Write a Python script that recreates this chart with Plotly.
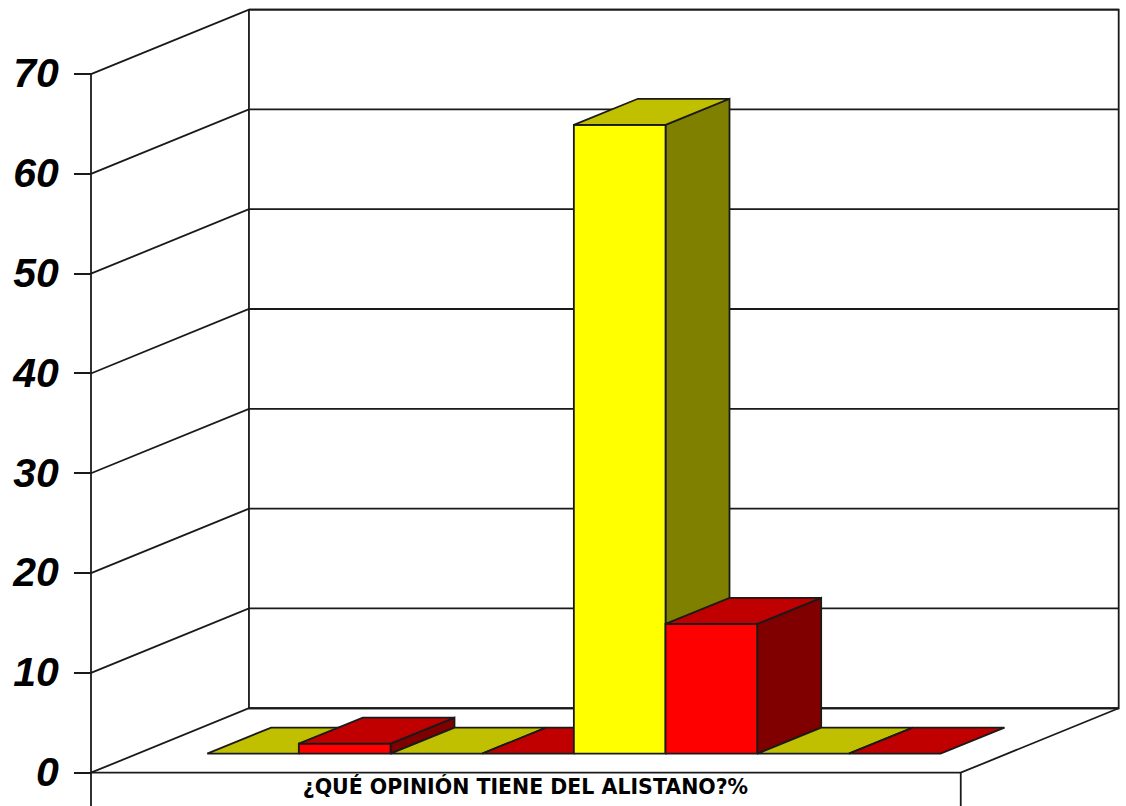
import plotly.graph_objects as go

# --- data ---
category_label = ["¿QUÉ OPINIÓN TIENE DEL ALISTANO?%"]
yellow_values = [0, 0, 63, 0]
red_values = [1, 0, 13, 0]
tick_values = [0, 10, 20, 30, 40, 50, 60, 70]

# --- oblique projection (axis units) ---
DEPTH_X = 0.1816   # full floor depth along x, fraction of front width
DEPTH_Y = 6.46     # full floor depth along y, value units
BAR_NEAR, BAR_FAR = 0.295, 0.70
BAR_START, BAR_W = 0.08, 0.1054
UNITS_PER_PX_Y = 70 / 698.7
UNITS_PER_PX_X = 1 / 870
Y_MAX = 77.42
Y_MIN = -33.3 * UNITS_PER_PX_Y
X_MIN = -4 * UNITS_PER_PX_X
X_MAX = 1.19
LINE = "#1a1a1a"
LW = 1.8


def proj(x, v, d):
    return x + d * DEPTH_X, v + d * DEPTH_Y


fig = go.Figure()


def poly(points, fill=None, width=LW, name=""):
    xs = [p[0] for p in points]
    ys = [p[1] for p in points]
    fig.add_trace(go.Scatter(
        x=xs, y=ys, mode="lines", showlegend=False, name=name,
        fill="toself" if fill else None, fillcolor=fill,
        line=dict(color=LINE, width=width), hoverinfo="skip"))


# walls and floor
poly([proj(0, tick_values[-1], 1), proj(1, tick_values[-1], 1), proj(1, 0, 1),
      proj(0, 0, 1), proj(0, tick_values[-1], 1)])
for v in tick_values:
    poly([proj(0, v, 0), proj(0, v, 1), proj(1, v, 1)])
poly([proj(1, 0, 1), proj(1, 0, 0), (0, 0)])
poly([(0, tick_values[-1]), (0, Y_MIN)])
poly([(1, 0), (1, Y_MIN)])

# bars, painted from left to right
palette = [("#FFFF00", "#C0C000", "#808000"), ("#FF0000", "#C00000", "#800000")]
series = []
for a, b in zip(yellow_values, red_values):
    series += [(a, palette[0]), (b, palette[1])]

for i, (value, (front, top, side)) in enumerate(series):
    x0 = BAR_START + i * BAR_W
    x1 = x0 + BAR_W
    near_bl = proj(x0, 0, BAR_NEAR)
    near_br = proj(x1, 0, BAR_NEAR)
    near_tl = proj(x0, value, BAR_NEAR)
    near_tr = proj(x1, value, BAR_NEAR)
    far_tl = proj(x0, value, BAR_FAR)
    far_tr = proj(x1, value, BAR_FAR)
    far_br = proj(x1, 0, BAR_FAR)
    if value > 0:
        poly([near_br, far_br, far_tr, near_tr, near_br], side)
        poly([near_bl, near_br, near_tr, near_tl, near_bl], front)
    poly([near_tl, near_tr, far_tr, far_tl, near_tl], top)

fig.update_layout(
    width=1126, height=806,
    margin=dict(l=87, r=0, t=0, b=0, pad=0, autoexpand=False),
    paper_bgcolor="white", plot_bgcolor="white", showlegend=False,
    xaxis=dict(range=[X_MIN, X_MAX], showgrid=False, zeroline=False, showline=False,
               anchor="free", position=-Y_MIN / (Y_MAX - Y_MIN),
               tickmode="array", tickvals=[0.4995], ticktext=category_label,
               ticks="", ticklen=0,
               tickfont=dict(family="DejaVu Sans", size=20.5, color="black", weight="bold")),
    yaxis=dict(range=[Y_MIN, Y_MAX], showgrid=False, zeroline=False, showline=False,
               anchor="free", position=-X_MIN / (X_MAX - X_MIN),
               tickmode="array", tickvals=tick_values,
               ticks="outside", ticklen=17, tickwidth=LW, tickcolor=LINE,
               ticklabelstandoff=7, ticklabelshift=-1,
               tickfont=dict(family="Liberation Sans", size=41, color="black",
                             weight="bold", style="italic")),
)

fig.write_html("out.html", config={"displayModeBar": False},
               post_script="document.body.style.margin='0';document.body.style.overflow='hidden';")
